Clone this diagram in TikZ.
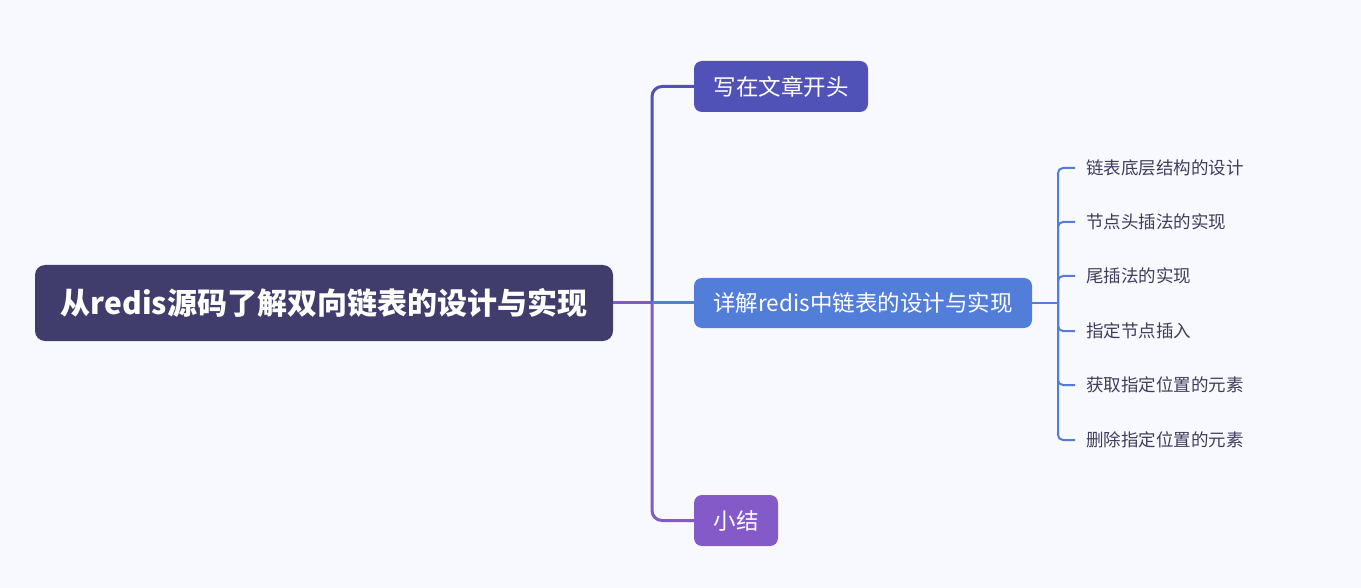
\documentclass[tikz,border=0pt]{standalone}
\usepackage{fontspec}
\setmainfont{Noto Sans CJK SC}
\newfontfamily\cjk{Noto Sans CJK SC}
\definecolor{bgc}{HTML}{F8F9FE}
\definecolor{rootc}{HTML}{403D6D}
\definecolor{c1}{HTML}{5152B8}
\definecolor{c2}{HTML}{527ED9}
\definecolor{c3}{HTML}{845AC9}
\definecolor{leaftxt}{HTML}{3F3D5E}
\begin{document}
\begin{tikzpicture}[x=1pt,y=-1pt,
  rootbox/.style={fill=rootc,rounded corners=10pt,text=white,font=\cjk\bfseries\fontsize{30}{32}\selectfont,minimum width=578pt,minimum height=76pt,inner sep=0pt},
  branchbox/.style={rounded corners=8pt,text=white,font=\cjk\fontsize{22.5}{24}\selectfont,minimum height=51pt,inner sep=0pt},
  leaf/.style={anchor=west,text=leaftxt,font=\cjk\fontsize{17.5}{19}\selectfont,inner xsep=11pt,inner ysep=0pt},
  conn/.style={line width=3pt,rounded corners=10pt},
  leafconn/.style={line width=2pt,draw=c2,rounded corners=5pt}]
\useasboundingbox[fill=bgc] (0,0) rectangle (1361,588);
\node[rootbox] (root) at (324,303) {从redis源码了解双向链表的设计与实现};
\node[branchbox,fill=c1,minimum width=174pt] (b1) at (781,86.5) {写在文章开头};
\node[branchbox,fill=c2,minimum width=338pt,minimum height=50pt] (b2) at (863,303) {详解redis中链表的设计与实现};
\node[branchbox,fill=c3,minimum width=84pt] (b3) at (736,520.5) {小结};
\coordinate (j) at (652,303);
\draw[conn,draw=c1] (j) |- (b1.west);
\draw[conn,draw=c3] (j) |- (b3.west);
\draw[conn,draw=c3,sharp corners] (root.east) -- (j);
\draw[conn,draw=c2,sharp corners] (j) -- (b2.west);
\coordinate (k) at (1058,303);
\node[leaf] (l1) at (1075,168) {链表底层结构的设计};
\node[leaf] (l2) at (1075,222) {节点头插法的实现};
\node[leaf] (l3) at (1075,276) {尾插法的实现};
\node[leaf] (l4) at (1075,331) {指定节点插入};
\node[leaf] (l5) at (1075,385) {获取指定位置的元素};
\node[leaf] (l6) at (1075,440) {删除指定位置的元素};
\draw[leafconn,sharp corners] (b2.east) -- (k);
\foreach \i in {1,...,6}{\draw[leafconn] (k) |- (l\i.west);}
\end{tikzpicture}
\end{document}
